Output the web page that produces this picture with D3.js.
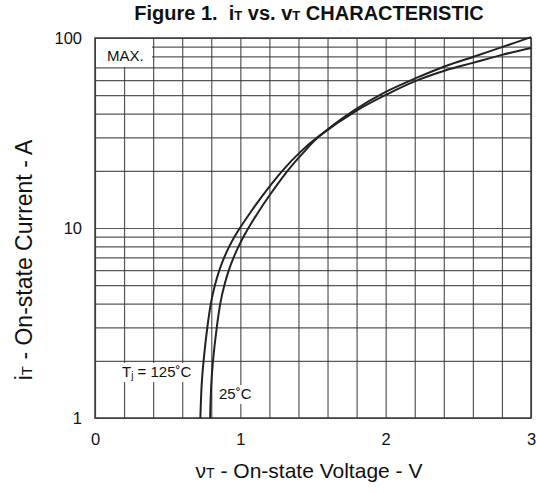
<!DOCTYPE html>
<html>
<head>
<meta charset="utf-8">
<script src="https://cdn.jsdelivr.net/npm/d3@7"></script>
<style>
  body { margin: 0; background: #fff; }
  svg { font-family: "Liberation Sans", Arial, sans-serif; }
</style>
</head>
<body>
<svg id="chart"></svg>
<script>
// on-state voltage (V) vs on-state current (A)
let v125 = [0.725, 0.734, 0.747, 0.773, 0.797, 0.825, 0.856, 0.889, 0.924, 0.96, 0.997, 1.067, 1.158, 1.289, 1.41, 1.53, 1.8, 2.02, 2.22, 2.41, 2.6, 2.8, 3.0];
let i125 = [1, 1.5, 2, 3, 4, 5, 6, 7, 8, 9, 10, 12, 15, 20, 25, 30, 41.5, 51, 60, 67.5, 74, 81.5, 88.6];
let v25 = [0.792, 0.80, 0.812, 0.838, 0.862, 0.89, 0.921, 0.954, 0.988, 1.022, 1.056, 1.12, 1.205, 1.325, 1.435, 1.535, 1.78, 2.0, 2.22, 2.41, 2.6, 2.8, 3.0];
let i25 = [1, 1.5, 2, 3, 4, 5, 6, 7, 8, 9, 10, 12, 15, 20, 25, 30, 41.5, 52, 62, 71, 79.4, 89.5, 101];

let xTicks = [0, 1, 2, 3];
let yTicks = [1, 10, 100];
let xGrid = d3.range(0, 3.001, 0.2);
let yGrid = [1, 2, 3, 4, 5, 6, 7, 8, 9, 10, 20, 30, 40, 50, 60, 70, 80, 90, 100];

let width = 536, height = 493;
let pLeft = 95, pRight = 531, pTop = 38, pBottom = 418;
let ink = "#3a3a3a";

let svg = d3.select("#chart").attr("width", width).attr("height", height);

let xScale = d3.scaleLinear().domain([0, 3]).range([pLeft, pRight]);
let yScale = d3.scaleLog().domain([1, 100]).range([pBottom, pTop]);

// title
let title = svg.append("text")
  .attr("x", 309).attr("y", 20)
  .attr("text-anchor", "middle")
  .attr("font-weight", "bold")
  .attr("font-size", 20)
  .attr("xml:space", "preserve")
  .attr("fill", "#111");
title.append("tspan").text("Figure 1.  i");
title.append("tspan").attr("font-size", 13).text("T");
title.append("tspan").text(" vs. v");
title.append("tspan").attr("font-size", 13).text("T");
title.append("tspan").text(" CHARACTERISTIC");

// grid
let gridX = svg.append("g")
  .attr("transform", `translate(0, ${pBottom})`)
  .call(d3.axisBottom(xScale).tickValues(xGrid).tickSize(-(pBottom - pTop)).tickFormat(""));
let gridY = svg.append("g")
  .attr("transform", `translate(${pLeft}, 0)`)
  .call(d3.axisLeft(yScale).tickValues(yGrid).tickSize(-(pRight - pLeft)).tickFormat(""));
[gridX, gridY].forEach(g => {
  g.select(".domain").remove();
  g.selectAll("line").attr("stroke", ink).attr("stroke-width", 1.2).attr("stroke-opacity", 0.85);
});

svg.append("rect")
  .attr("x", pLeft).attr("y", pTop)
  .attr("width", pRight - pLeft).attr("height", pBottom - pTop)
  .attr("fill", "none").attr("stroke", ink).attr("stroke-width", 1.5);

// curves
let line = d3.line()
  .x(d => xScale(d[0]))
  .y(d => yScale(d[1]))
  .curve(d3.curveCatmullRom.alpha(0.5));

svg.append("path")
  .datum(v125.map((v, k) => [v, i125[k]]))
  .attr("d", line)
  .attr("fill", "none").attr("stroke", "#222").attr("stroke-width", 2);
svg.append("path")
  .datum(v25.map((v, k) => [v, i25[k]]))
  .attr("d", line)
  .attr("fill", "none").attr("stroke", "#222").attr("stroke-width", 2);

// labels inside plot
svg.append("rect").attr("x", pLeft + 1).attr("y", pTop + 1).attr("width", 56).attr("height", 28).attr("fill", "#fff");
svg.append("text").attr("x", 107).attr("y", 61).attr("font-size", 15).attr("fill", "#111").text("MAX.");

svg.append("rect").attr("x", 119).attr("y", 363).attr("width", 77).attr("height", 19).attr("fill", "#fff");
let tj = svg.append("text").attr("x", 122).attr("y", 377).attr("font-size", 15).attr("fill", "#111");
tj.append("tspan").text("T");
tj.append("tspan").attr("font-size", 10).attr("dy", 2).text("j");
tj.append("tspan").attr("dy", -2).text(" = 125˚C");

svg.append("rect").attr("x", 216).attr("y", 385).attr("width", 40).attr("height", 19).attr("fill", "#fff");
svg.append("text").attr("x", 219).attr("y", 399).attr("font-size", 15).attr("fill", "#111").text("25˚C");

// tick labels
let xAxis = svg.append("g")
  .attr("transform", `translate(0, ${pBottom})`)
  .call(d3.axisBottom(xScale).tickValues(xTicks).tickSize(0).tickPadding(15).tickFormat(d3.format("d")));
let yAxis = svg.append("g")
  .attr("transform", `translate(${pLeft}, 0)`)
  .call(d3.axisLeft(yScale).tickValues(yTicks).tickSize(0).tickPadding(13).tickFormat(d3.format("d")));
[xAxis, yAxis].forEach(g => {
  g.select(".domain").remove();
  g.selectAll("text").attr("font-size", 16.5).attr("fill", "#111").attr("font-family", "Liberation Sans, Arial, sans-serif");
});

// axis titles
let xLabel = svg.append("text")
  .attr("x", 309).attr("y", 478)
  .attr("text-anchor", "middle")
  .attr("font-size", 21).attr("fill", "#111");
xLabel.append("tspan").text("ν");
xLabel.append("tspan").attr("font-size", 14).text("T");
xLabel.append("tspan").text(" - On-state Voltage - V");

let yLabel = svg.append("text")
  .attr("transform", `translate(32, 260) rotate(-90)`)
  .attr("text-anchor", "middle")
  .attr("font-size", 23).attr("fill", "#111");
yLabel.append("tspan").text("i");
yLabel.append("tspan").attr("font-size", 15).text("T");
yLabel.append("tspan").text(" - On-state Current - A");
</script>
</body>
</html>
